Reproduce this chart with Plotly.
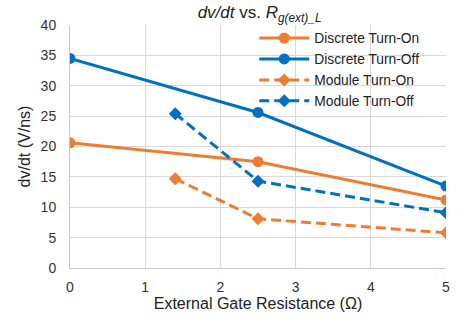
import plotly.graph_objects as go

x_discrete = [0, 2.5, 5]
y_disc_on = [20.6, 17.5, 11.2]
y_disc_off = [34.5, 25.6, 13.5]
x_module = [1.4, 2.5, 5]
y_mod_on = [14.7, 8.1, 5.8]
y_mod_off = [25.4, 14.3, 9.1]

orange = "#ED7D31"
blue = "#0070C0"
dash = "10px,5px"

fig = go.Figure()
fig.add_trace(go.Scatter(x=x_discrete, y=y_disc_on, name="Discrete Turn-On", mode="lines+markers",
                         line=dict(color=orange, width=3), marker=dict(symbol="circle", size=11, color=orange)))
fig.add_trace(go.Scatter(x=x_discrete, y=y_disc_off, name="Discrete Turn-Off", mode="lines+markers",
                         line=dict(color=blue, width=3), marker=dict(symbol="circle", size=11, color=blue)))
fig.add_trace(go.Scatter(x=x_module, y=y_mod_on, name="Module Turn-On", mode="lines+markers",
                         line=dict(color=orange, width=3, dash=dash), marker=dict(symbol="diamond", size=10, color=orange)))
fig.add_trace(go.Scatter(x=x_module, y=y_mod_off, name="Module Turn-Off", mode="lines+markers",
                         line=dict(color=blue, width=3, dash=dash), marker=dict(symbol="diamond", size=10, color=blue)))

fig.update_layout(
    width=472, height=324,
    margin=dict(l=70, r=26, t=25, b=56),
    paper_bgcolor="white", plot_bgcolor="white",
    font=dict(family="Liberation Sans, Arial, sans-serif", size=14, color="#333333"),
    title=dict(text="<i>dv/dt</i> vs. <i>R</i><sub><i>g(ext)_L</i></sub>", x=0.55, xanchor="center",
               y=0.98, yanchor="top", font=dict(size=17, color="#222222")),
    legend=dict(x=0.49, y=1.01, xanchor="left", yanchor="top", bgcolor="rgba(0,0,0,0)",
                font=dict(size=13.8, color="#222222"), tracegroupgap=0, itemwidth=50),
    showlegend=True,
)
fig.update_xaxes(range=[0, 5], dtick=1, showgrid=True, gridcolor="#D9D9D9", gridwidth=1,
                 showline=True, linecolor="#C8C8C8", zeroline=False,
                 ticks="outside", ticklen=6, tickcolor="rgba(0,0,0,0)",
                 title=dict(text="External Gate Resistance (Ω)", font=dict(size=16, color="#222222"), standoff=4),
                 tickfont=dict(size=14, color="#333333"))
fig.update_yaxes(range=[0, 40], dtick=5, showgrid=True, gridcolor="#D9D9D9", gridwidth=1,
                 showline=True, linecolor="#C8C8C8", zeroline=False,
                 ticks="outside", ticklen=10, tickcolor="rgba(0,0,0,0)",
                 title=dict(text="dv/dt (V/ns)", font=dict(size=16, color="#222222"), standoff=6),
                 tickfont=dict(size=14, color="#333333"))

fig.write_html("out.html")
